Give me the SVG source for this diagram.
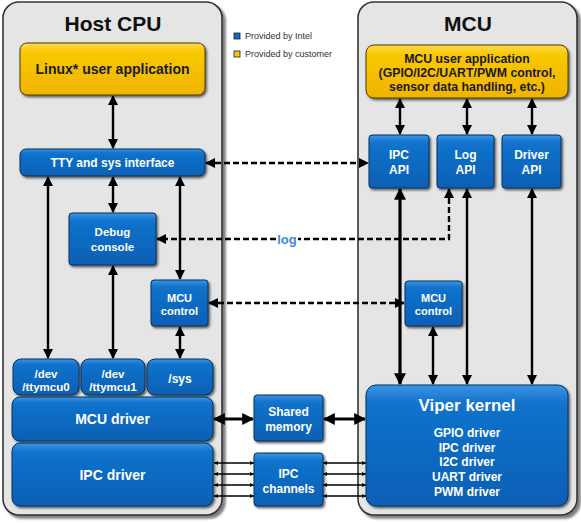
<svg xmlns="http://www.w3.org/2000/svg" width="581" height="523" viewBox="0 0 581 523">
<defs>
<linearGradient id="gBlue" x1="0" y1="0" x2="0" y2="1">
<stop offset="0" stop-color="#3a95e6"/>
<stop offset="0.15" stop-color="#1272cc"/>
<stop offset="1" stop-color="#0a60b4"/>
</linearGradient>
<linearGradient id="gYellow" x1="0" y1="0" x2="0" y2="1">
<stop offset="0" stop-color="#ffda50"/>
<stop offset="0.18" stop-color="#f8c800"/>
<stop offset="1" stop-color="#f0b400"/>
</linearGradient>
<filter id="sh" x="-10%" y="-10%" width="130%" height="140%">
<feDropShadow dx="1.5" dy="1.8" stdDeviation="0.8" flood-color="#000" flood-opacity="0.6"/>
</filter>
<filter id="psh" x="-5%" y="-5%" width="115%" height="110%">
<feDropShadow dx="3" dy="3" stdDeviation="1.2" flood-color="#000" flood-opacity="0.5"/>
</filter>
<marker id="ah" viewBox="0 0 10 10" refX="9" refY="5" markerWidth="10" markerHeight="10" markerUnits="userSpaceOnUse" orient="auto-start-reverse">
<path d="M0,0 L10,5 L0,10 z" fill="#000"/>
</marker>
<marker id="ahb" viewBox="0 0 10 10" refX="9" refY="5" markerWidth="12" markerHeight="12" markerUnits="userSpaceOnUse" orient="auto-start-reverse">
<path d="M0,0 L10,5 L0,10 z" fill="#000"/>
</marker>
<marker id="ahs" viewBox="0 0 10 10" refX="10" refY="5" markerWidth="4" markerHeight="5" markerUnits="userSpaceOnUse" orient="auto-start-reverse">
<path d="M0,0 L10,5 L0,10 z" fill="#000"/>
</marker>
<style>
.panel{fill:#e5e5e5;stroke:#333;stroke-width:1.6;filter:url(#psh)}
.blue{fill:url(#gBlue);stroke:#06305c;stroke-width:1;filter:url(#sh)}
.yel{fill:url(#gYellow);stroke:#4d3f00;stroke-width:1;filter:url(#sh)}
text{font-family:"Liberation Sans",Arial,sans-serif;font-weight:bold;text-anchor:middle}
.w{fill:#fff}
.k{fill:#1a1a1a}
.ttl{font-size:21px;fill:#111}
.leg{font-size:9px;font-weight:normal;text-anchor:start;fill:#333}
.ln{fill:none;stroke:#000;stroke-width:2.4;marker-start:url(#ah);marker-end:url(#ah)}
.lb{fill:none;stroke:#000;stroke-width:3.2;marker-start:url(#ahb);marker-end:url(#ahb)}
.ls{fill:none;stroke:#000;stroke-width:1.6;marker-start:url(#ahs);marker-end:url(#ahs)}
.dash{fill:none;stroke:#000;stroke-width:2.4;stroke-dasharray:6,3;marker-start:url(#ah);marker-end:url(#ah)}
</style>
</defs>
<rect width="581" height="523" fill="#fff"/>

<g id="host-cpu-panel">
<rect class="panel" x="3" y="2" width="219" height="513" rx="16"/>
<text class="ttl" x="113" y="31">Host CPU</text>
</g>
<g id="mcu-panel">
<rect class="panel" x="358" y="2" width="219" height="513" rx="16"/>
<text class="ttl" x="468" y="31">MCU</text>
</g>

<g id="legend">
<rect x="234" y="33" width="6" height="6" fill="#0a6cc8" stroke="#222" stroke-width="0.8"/>
<text class="leg" x="245" y="39">Provided by Intel</text>
<rect x="234" y="51" width="6" height="6" fill="#f7c400" stroke="#222" stroke-width="0.8"/>
<text class="leg" x="245" y="57">Provided by customer</text>
</g>

<g id="connectors">
<line class="ln" x1="113" y1="96" x2="113" y2="148"/>
<line class="ln" x1="48" y1="177" x2="48" y2="358"/>
<line class="ln" x1="113" y1="177" x2="113" y2="212"/>
<line class="ln" x1="180" y1="177" x2="180" y2="279"/>
<line class="ln" x1="113" y1="266" x2="113" y2="358"/>
<line class="ln" x1="180" y1="327" x2="180" y2="358"/>
<line class="dash" x1="206" y1="163" x2="368" y2="163"/>
<polyline class="dash" points="449,189 449,239 298,239" style="marker-end:none"/>
<line class="dash" x1="276" y1="239" x2="157" y2="239" style="marker-start:none"/>
<text x="287" y="243.5" style="font-size:13px;fill:#3d88dc">log</text>
<line class="dash" x1="209" y1="303" x2="404" y2="303"/>
<line class="ln" x1="400" y1="99" x2="400" y2="134"/>
<line class="ln" x1="467" y1="99" x2="467" y2="134"/>
<line class="ln" x1="532" y1="99" x2="532" y2="134"/>
<line class="lb" x1="400" y1="189" x2="400" y2="384"/>
<line class="ln" x1="467" y1="189" x2="467" y2="384"/>
<line class="ln" x1="532" y1="189" x2="532" y2="384"/>
<line class="ln" x1="433" y1="327" x2="433" y2="384"/>
<line class="lb" x1="214" y1="419" x2="253" y2="419"/>
<line class="lb" x1="324" y1="419" x2="365" y2="419"/>
<line class="ls" x1="214" y1="463" x2="254" y2="463"/>
<line class="ls" x1="214" y1="474" x2="254" y2="474"/>
<line class="ls" x1="214" y1="485" x2="254" y2="485"/>
<line class="ls" x1="214" y1="496" x2="254" y2="496"/>
<line class="ls" x1="323" y1="463" x2="366" y2="463"/>
<line class="ls" x1="323" y1="474" x2="366" y2="474"/>
<line class="ls" x1="323" y1="485" x2="366" y2="485"/>
<line class="ls" x1="323" y1="496" x2="366" y2="496"/>
</g>

<g id="linux-user-application">
<rect class="yel" x="20" y="43" width="185" height="52" rx="7"/>
<text class="k" x="112.5" y="74" style="font-size:14px">Linux* user application</text>
</g>
<g id="tty-sys-interface">
<rect class="blue" x="20" y="149" width="185" height="27" rx="6"/>
<text class="w" x="112.5" y="167" style="font-size:12px">TTY and sys interface</text>
</g>
<g id="debug-console">
<rect class="blue" x="69" y="213" width="87" height="52" rx="3"/>
<text class="w" x="112.5" y="236" style="font-size:11.5px">Debug</text>
<text class="w" x="112.5" y="251" style="font-size:11.5px">console</text>
</g>
<g id="host-mcu-control">
<rect class="blue" x="151" y="280" width="57" height="46" rx="3"/>
<text class="w" x="179.5" y="302" style="font-size:11px">MCU</text>
<text class="w" x="179.5" y="315" style="font-size:11px">control</text>
</g>
<g id="dev-ttymcu0">
<rect class="blue" x="13" y="359" width="66" height="36" rx="8"/>
<text class="w" x="46" y="378" style="font-size:11.5px">/dev</text>
<text class="w" x="46" y="391" style="font-size:11.5px">/ttymcu0</text>
</g>
<g id="dev-ttymcu1">
<rect class="blue" x="81" y="359" width="64" height="36" rx="8"/>
<text class="w" x="113" y="378" style="font-size:11.5px">/dev</text>
<text class="w" x="113" y="391" style="font-size:11.5px">/ttymcu1</text>
</g>
<g id="sys">
<rect class="blue" x="147" y="359" width="66" height="36" rx="8"/>
<text class="w" x="180" y="383" style="font-size:12px">/sys</text>
</g>
<g id="mcu-driver">
<rect class="blue" x="12" y="397" width="201" height="44" rx="8"/>
<text class="w" x="112.5" y="424" style="font-size:14px">MCU driver</text>
</g>
<g id="ipc-driver">
<rect class="blue" x="12" y="443" width="201" height="63" rx="8"/>
<text class="w" x="112.5" y="480" style="font-size:14px">IPC driver</text>
</g>
<g id="shared-memory">
<rect class="blue" x="254" y="395" width="69" height="46" rx="3"/>
<text class="w" x="288.5" y="416" style="font-size:12px">Shared</text>
<text class="w" x="288.5" y="431" style="font-size:12px">memory</text>
</g>
<g id="ipc-channels">
<rect class="blue" x="254" y="453" width="69" height="53" rx="3"/>
<text class="w" x="288.5" y="478" style="font-size:12px">IPC</text>
<text class="w" x="288.5" y="493" style="font-size:12px">channels</text>
</g>
<g id="mcu-user-application">
<rect class="yel" x="366" y="45" width="202" height="53" rx="8"/>
<text class="k" x="467" y="63" style="font-size:12.3px">MCU user application</text>
<text class="k" x="467" y="77" style="font-size:12.3px">(GPIO/I2C/UART/PWM control,</text>
<text class="k" x="467" y="91" style="font-size:12.3px">sensor data handling, etc.)</text>
</g>
<g id="ipc-api">
<rect class="blue" x="369" y="135" width="60" height="53" rx="3"/>
<text class="w" x="399" y="159" style="font-size:12px">IPC</text>
<text class="w" x="399" y="174" style="font-size:12px">API</text>
</g>
<g id="log-api">
<rect class="blue" x="437" y="135" width="57" height="53" rx="3"/>
<text class="w" x="465.5" y="159" style="font-size:12px">Log</text>
<text class="w" x="465.5" y="174" style="font-size:12px">API</text>
</g>
<g id="driver-api">
<rect class="blue" x="502" y="135" width="59" height="53" rx="3"/>
<text class="w" x="531.5" y="159" style="font-size:12px">Driver</text>
<text class="w" x="531.5" y="174" style="font-size:12px">API</text>
</g>
<g id="mcu-control">
<rect class="blue" x="405" y="281" width="57" height="45" rx="3"/>
<text class="w" x="433.5" y="302" style="font-size:11px">MCU</text>
<text class="w" x="433.5" y="315" style="font-size:11px">control</text>
</g>
<g id="viper-kernel">
<rect class="blue" x="366" y="385" width="202" height="121" rx="10"/>
<text class="w" x="467" y="411" style="font-size:17px">Viper kernel</text>
<text class="w" x="467" y="437" style="font-size:12px">GPIO driver</text>
<text class="w" x="467" y="452" style="font-size:12px">IPC driver</text>
<text class="w" x="467" y="466" style="font-size:12px">I2C driver</text>
<text class="w" x="467" y="481" style="font-size:12px">UART driver</text>
<text class="w" x="467" y="496" style="font-size:12px">PWM driver</text>
</g>
</svg>
